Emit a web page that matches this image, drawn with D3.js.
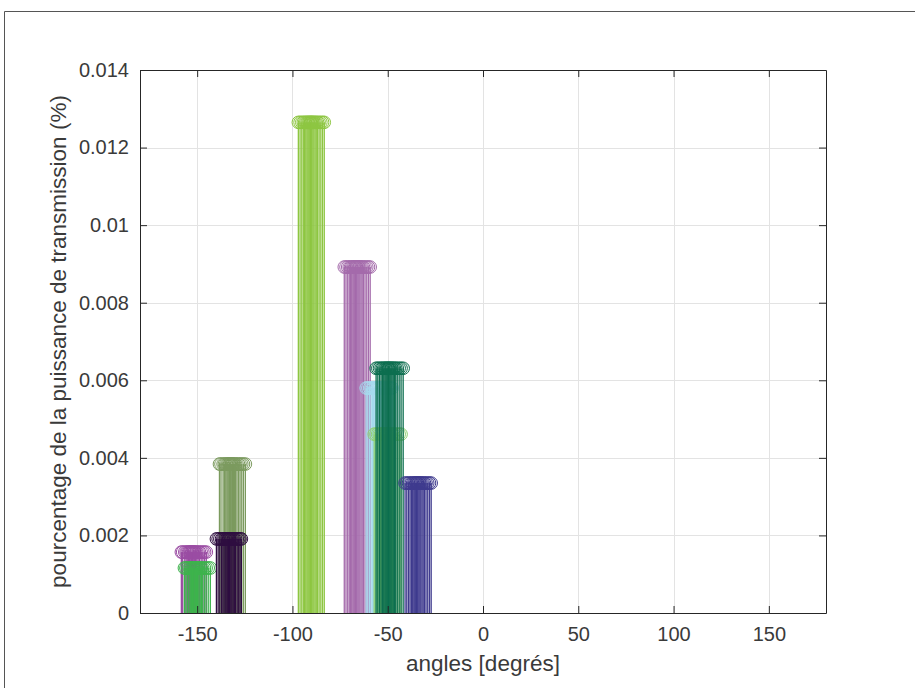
<!DOCTYPE html>
<html>
<head>
<meta charset="utf-8">
<script src="https://cdn.jsdelivr.net/npm/d3@7/dist/d3.min.js"></script>
<style>
  html, body { margin: 0; padding: 0; background: #fff; }
  svg { display: block; }
  text { font-family: "Liberation Sans", Arial, Helvetica, sans-serif; fill: #3a3a3a; }
</style>
</head>
<body>
<svg id="chart" width="915" height="688"></svg>
<script>
// ---- data ----
const xTicks = [-150, -100, -50, 0, 50, 100, 150];
const yTicks = [0, 0.002, 0.004, 0.006, 0.008, 0.01, 0.012, 0.014];
const yTickLabels = ["0", "0.002", "0.004", "0.006", "0.008", "0.01", "0.012", "0.014"];

const seriesNames = ["s1", "s2", "s3", "s4", "s5", "s6", "s7", "s8", "s9", "s10"];
const seriesColors = ["#9a4ca3", "#3db34c", "#7b9a5e", "#2e0d40", "#8dc641", "#a46aab", "#a6daee", "#8fd16f", "#0c6e4f", "#3e3a8e"];
const seriesValues = [0.00157, 0.00116, 0.00384, 0.00191, 0.01265, 0.00892, 0.0058, 0.00461, 0.00631, 0.00335];

const angles1 = [-158.3,-157.6,-156.5,-155.8,-155.2,-154.6,-154.1,-153.7,-153.3,-152.9,-152.5,-152.1,-151.7,-151.3,-150.8,-150.2,-149.5,-148.8,-147.9,-147.0,-146.1,-145.2];
const angles2 = [-156.7,-155.9,-155.0,-154.2,-153.6,-153.0,-152.5,-152.0,-151.6,-151.2,-150.8,-150.4,-149.9,-149.5,-149.0,-148.4,-147.8,-147.1,-146.2,-145.3,-144.2,-143.1];
const angles3 = [-138.3,-137.5,-136.4,-135.7,-135.0,-134.4,-133.9,-133.4,-133.0,-132.6,-132.2,-131.8,-131.4,-130.9,-130.4,-129.8,-129.1,-128.3,-127.5,-126.6,-125.7,-124.7];
const angles4 = [-139.9,-139.0,-138.1,-137.2,-136.5,-135.9,-135.3,-134.8,-134.3,-133.9,-133.5,-133.1,-132.7,-132.2,-131.7,-131.1,-130.5,-129.8,-129.0,-128.2,-127.5,-126.8];
const angles5 = [-96.9,-96.0,-95.1,-94.3,-93.6,-93.0,-92.4,-91.9,-91.4,-90.9,-90.5,-90.1,-89.7,-89.2,-88.7,-88.1,-87.5,-86.8,-86.0,-85.1,-84.2,-83.3];
const angles6 = [-72.8,-71.9,-71.0,-70.2,-69.5,-68.9,-68.3,-67.8,-67.3,-66.9,-66.5,-66.1,-65.6,-65.1,-64.6,-64.0,-63.4,-62.7,-61.9,-61.0,-60.1,-59.2];
const angles7 = [-61.3,-60.4,-59.5,-58.7,-58.0,-57.4,-56.8,-56.3,-55.8,-55.4,-55.0,-54.6,-54.1,-53.6,-53.1,-52.5,-51.9,-51.2,-50.4,-49.5,-48.6,-47.7];
const angles8 = [-57.1,-56.2,-55.3,-54.5,-53.8,-53.1,-52.5,-52.0,-51.5,-51.0,-50.6,-50.2,-49.7,-49.2,-48.7,-48.1,-47.5,-46.8,-46.0,-45.0,-44.0,-43.0];
const angles9 = [-56.1,-55.2,-54.3,-53.5,-52.8,-52.1,-51.5,-51.0,-50.5,-50.0,-49.6,-49.2,-48.7,-48.2,-47.7,-47.1,-46.5,-45.8,-45.0,-44.0,-43.0,-41.9];
const angles10 = [-40.9,-40.0,-39.1,-38.3,-37.6,-36.9,-36.3,-35.8,-35.3,-34.9,-34.5,-34.1,-33.6,-33.1,-32.6,-32.0,-31.4,-30.7,-29.9,-29.0,-28.1,-27.2];
const seriesAngles = [angles1, angles2, angles3, angles4, angles5, angles6, angles7, angles8, angles9, angles10];

const xLabel = "angles [degrés]";
const yLabel = "pourcentage de la puissance de transmission (%)";

// ---- layout ----
const W = 915, H = 688;
const plot = { left: 140, right: 826, top: 70, bottom: 613 };
const svg = d3.select("#chart");

// figure frame
svg.append("line").attr("x1", 4.5).attr("x2", W).attr("y1", 11.5).attr("y2", 11.5)
  .attr("stroke", "#555").attr("stroke-width", 1);
svg.append("line").attr("x1", 4.5).attr("x2", 4.5).attr("y1", 11.5).attr("y2", H)
  .attr("stroke", "#555").attr("stroke-width", 1);

const x = d3.scaleLinear().domain([-180, 180]).range([plot.left, plot.right]);
const y = d3.scaleLinear().domain([0, 0.014]).range([plot.bottom, plot.top]);

// grid
const grid = svg.append("g");
xTicks.forEach(t => grid.append("line")
  .attr("x1", Math.round(x(t)) + 0.5).attr("x2", Math.round(x(t)) + 0.5)
  .attr("y1", plot.top).attr("y2", plot.bottom)
  .attr("stroke", "#e3e3e3").attr("stroke-width", 1));
yTicks.forEach(t => grid.append("line")
  .attr("x1", plot.left).attr("x2", plot.right)
  .attr("y1", Math.round(y(t)) + 0.5).attr("y2", Math.round(y(t)) + 0.5)
  .attr("stroke", "#e3e3e3").attr("stroke-width", 1));

// stems
const marks = svg.append("g");
seriesAngles.forEach((angles, i) => {
  const g = marks.append("g").attr("class", "series " + seriesNames[i]);
  const v = seriesValues[i];
  const col = seriesColors[i];
  g.selectAll("line").data(angles).join("line")
    .attr("x1", d => x(d)).attr("x2", d => x(d))
    .attr("y1", y(0)).attr("y2", y(v))
    .attr("stroke", col).attr("stroke-width", 1.3);
  g.selectAll("circle").data(angles).join("circle")
    .attr("cx", d => x(d)).attr("cy", y(v)).attr("r", 6.3)
    .attr("fill", "none").attr("stroke", col).attr("stroke-width", 1);
});

// axes (box with inward ticks)
const axCol = "#262626";
const tickLen = 7;
const xAxisB = d3.axisBottom(x).tickValues(xTicks).tickSizeInner(-tickLen).tickSizeOuter(0).tickPadding(14)
  .tickFormat(d => d3.format("d")(d).replace("−", "-"));
const xAxisT = d3.axisTop(x).tickValues(xTicks).tickSizeInner(-tickLen).tickSizeOuter(0).tickFormat("");
const yAxisL = d3.axisLeft(y).tickValues(yTicks).tickSizeInner(-tickLen).tickSizeOuter(0).tickPadding(11)
  .tickFormat((d, i) => yTickLabels[i]);
const yAxisR = d3.axisRight(y).tickValues(yTicks).tickSizeInner(-tickLen).tickSizeOuter(0).tickFormat("");

function style(g) {
  g.selectAll("path").attr("stroke", axCol).attr("stroke-width", 1);
  g.selectAll("line").attr("stroke", axCol).attr("stroke-width", 1);
  g.selectAll("text").attr("fill", "#3a3a3a").style("font-size", "20px")
    .style("font-family", "'Liberation Sans', Arial, sans-serif");
}
svg.append("g").attr("transform", `translate(0,${plot.bottom})`).call(xAxisB).call(style);
svg.append("g").attr("transform", `translate(0,${plot.top})`).call(xAxisT).call(style);
svg.append("g").attr("transform", `translate(${plot.left},0)`).call(yAxisL).call(style);
svg.append("g").attr("transform", `translate(${plot.right},0)`).call(yAxisR).call(style);

// labels
svg.append("text").attr("x", (plot.left + plot.right) / 2).attr("y", 671)
  .attr("text-anchor", "middle").style("font-size", "22.5px").text(xLabel);
svg.append("text")
  .attr("transform", `translate(66,${(plot.top + plot.bottom) / 2}) rotate(-90)`)
  .attr("text-anchor", "middle").style("font-size", "22.5px").text(yLabel);
</script>
</body>
</html>
